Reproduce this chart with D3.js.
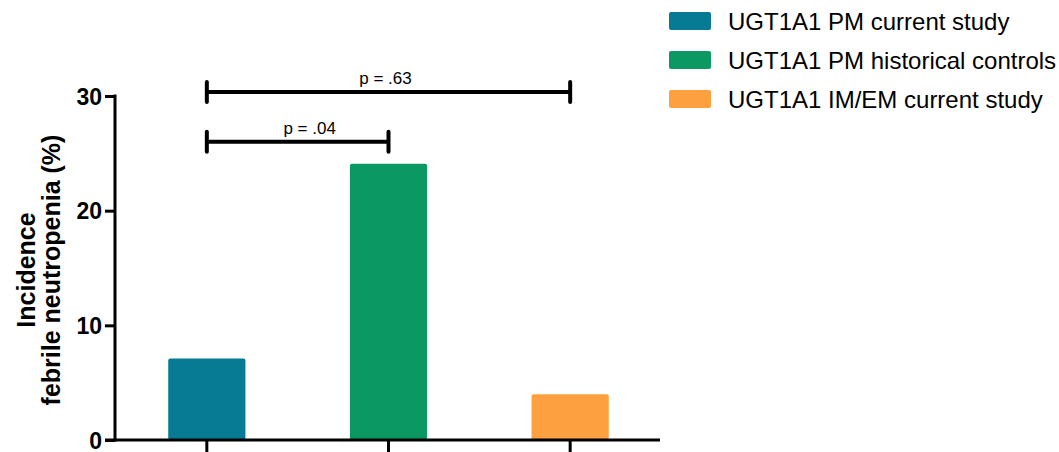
<!DOCTYPE html>
<html><head><meta charset="utf-8">
<script src="https://cdn.jsdelivr.net/npm/d3@7"></script>
<style>body{margin:0;background:#fff}svg{display:block}</style>
</head><body>
<svg id="c" width="1059" height="452"></svg>
<script>
const categories = ["UGT1A1 PM current study","UGT1A1 PM historical controls","UGT1A1 IM/EM current study"];
const values = [7.1, 24.1, 4.0];
const colors = ["#077b94","#0c9863","#fda040"];
const yTicks = [0,10,20,30];
const comparisons = [{from:0,to:1,level:26.0,label:"p = .04"},{from:0,to:2,level:30.35,label:"p = .63"}];

const svg = d3.select("#c");
const font = "Liberation Sans, Arial, sans-serif";
const x0 = 115, xEnd = 660, yBase = 440, yTop = 96;
const y = d3.scaleLinear().domain([0,30]).range([yBase,yTop]);
const x = d3.scaleBand().domain(d3.range(categories.length)).range([x0+1, x0+1+545]).paddingInner(0.575).paddingOuter(0.2875);

// bars
svg.selectAll("rect.bar").data(values).join("rect")
  .attr("x",(d,i)=>x(i)).attr("width",x.bandwidth())
  .attr("y",d=>y(d)).attr("height",d=>yBase-y(d))
  .attr("rx",2).attr("fill",(d,i)=>colors[i]);

// y axis
const yAxis = d3.axisLeft(y).tickValues(yTicks).tickSize(10).tickPadding(3).tickFormat(d3.format("d"));
const ga = svg.append("g").attr("transform",`translate(${x0},0)`).call(yAxis);
ga.select(".domain").attr("stroke","#000").attr("stroke-width",3).attr("d",`M0,${yBase+1.5}V${yTop-1.5}`);
ga.selectAll(".tick line").attr("stroke","#000").attr("stroke-width",3);
ga.selectAll(".tick text").attr("font-family",font).attr("font-size",23).attr("font-weight","bold").attr("fill","#000").attr("dy","0.36em");

// x axis
const gx = svg.append("g").attr("transform",`translate(0,${yBase})`);
gx.append("line").attr("x1",x0-10).attr("x2",xEnd).attr("stroke","#000").attr("stroke-width",3);
gx.selectAll("line.t").data(values).join("line").attr("class","t")
  .attr("x1",(d,i)=>x(i)+x.bandwidth()/2).attr("x2",(d,i)=>x(i)+x.bandwidth()/2)
  .attr("y1",0).attr("y2",14).attr("stroke","#000").attr("stroke-width",3);

// y label
const yl = svg.append("text").attr("transform",`translate(0,270) rotate(-90)`)
  .attr("text-anchor","middle").attr("font-family",font).attr("font-size",25).attr("font-weight","bold").attr("fill","#000");
yl.append("tspan").attr("x",0).attr("y",35).text("Incidence");
yl.append("tspan").attr("x",0).attr("y",60).text("febrile neutropenia (%)");

// comparison brackets
const cx = i => x(i)+x.bandwidth()/2;
const br = svg.selectAll("g.br").data(comparisons).join("g");
br.append("line").attr("x1",d=>cx(d.from)).attr("x2",d=>cx(d.to)).attr("y1",d=>y(d.level)).attr("y2",d=>y(d.level)).attr("stroke","#000").attr("stroke-width",4);
br.append("line").attr("x1",d=>cx(d.from)).attr("x2",d=>cx(d.from)).attr("y1",d=>y(d.level)-10).attr("y2",d=>y(d.level)+10).attr("stroke","#000").attr("stroke-width",4).attr("stroke-linecap","round");
br.append("line").attr("x1",d=>cx(d.to)).attr("x2",d=>cx(d.to)).attr("y1",d=>y(d.level)-10).attr("y2",d=>y(d.level)+10).attr("stroke","#000").attr("stroke-width",4).attr("stroke-linecap","round");
br.append("text").attr("x",d=>(cx(d.from)+cx(d.to))/2).attr("dx",(d,i)=>i===0?12:-3).attr("y",d=>y(d.level)-8)
  .attr("text-anchor","middle").attr("font-family",font).attr("font-size",17).attr("fill","#000").text(d=>d.label);

// legend
const lg = svg.selectAll("g.lg").data(categories).join("g").attr("transform",(d,i)=>`translate(669,${12+i*39})`);
lg.append("rect").attr("width",42).attr("height",18).attr("rx",2).attr("fill",(d,i)=>colors[i]);
lg.append("text").attr("x",59).attr("y",9).attr("dy","0.36em").attr("font-family",font).attr("font-size",24).attr("fill","#000").text(d=>d);
</script>
</body></html>
